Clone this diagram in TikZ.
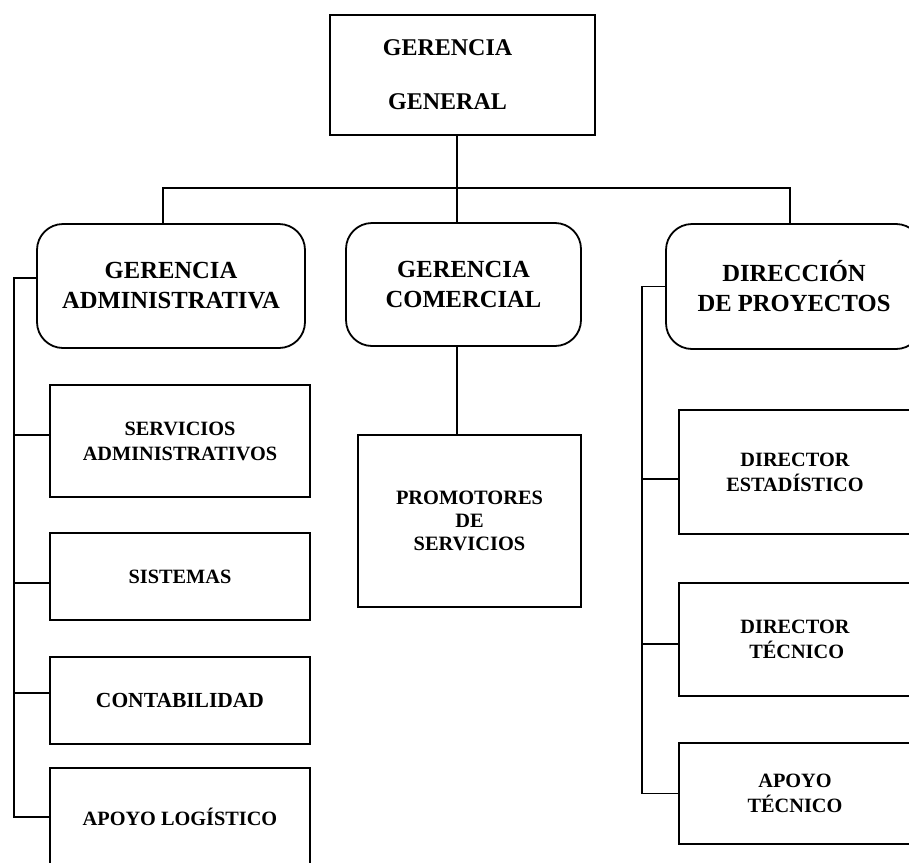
\documentclass[tikz,border=0pt]{standalone}
\usepackage{fontspec}
\setmainfont{Liberation Serif}
\begin{document}
\begin{tikzpicture}[x=1pt,y=-1pt,
  boxstyle/.style={draw, line width=1.8pt, inner sep=0pt, align=center, font=\bfseries},
  roundbox/.style={boxstyle, rounded corners=26pt, font=\fontsize{24.6}{30}\selectfont\bfseries},
  smallbox/.style={boxstyle, font=\fontsize{20.3}{25}\selectfont\bfseries},
  conn/.style={line width=1.5pt}]
\clip (0,0) rectangle (909,862);
\fill[white] (0,0) rectangle (909,862);

% top
\node[boxstyle, minimum width=265pt, minimum height=120pt,
      font=\fontsize{24}{54}\selectfont\bfseries] (gg) at (462.5,75)
  {\hspace*{-30pt}GERENCIA\\\hspace*{-30pt}GENERAL};

% second level
\node[roundbox, minimum width=268pt, minimum height=124pt] (ga) at (171,286) {GERENCIA\\ADMINISTRATIVA};
\node[roundbox, minimum width=235pt, minimum height=123pt] (gc) at (463.5,284.5) {GERENCIA\\COMERCIAL};
\node[roundbox, minimum width=256pt, minimum height=125pt] (gd) at (794,286.5) {DIRECCIÓN\\DE PROYECTOS};

% left column
\node[smallbox, minimum width=260pt, minimum height=112pt] (sa) at (180,441) {SERVICIOS\\ADMINISTRATIVOS};
\node[smallbox, minimum width=260pt, minimum height=87pt] (si) at (180,576.5) {SISTEMAS};
\node[smallbox, minimum width=260pt, minimum height=87pt, font=\fontsize{21.5}{25}\selectfont\bfseries] (co) at (180,700.5) {CONTABILIDAD};
\node[smallbox, minimum width=260pt, minimum height=98pt] (al) at (180,817) {APOYO LOGÍSTICO};

% middle column
\node[boxstyle, minimum width=223pt, minimum height=172pt,
      font=\fontsize{20.4}{23}\selectfont\bfseries] (pr) at (469.5,521) {PROMOTORES\\DE\\SERVICIOS};

% right column
\node[smallbox, minimum width=232pt, minimum height=124pt] (ed) at (795,472) {DIRECTOR\\ESTADÍSTICO};
\node[smallbox, minimum width=232pt, minimum height=113pt] (dt) at (795,639.5) {DIRECTOR\\ \,TÉCNICO};
\node[smallbox, minimum width=232pt, minimum height=101pt] (at) at (795,793.5) {APOYO\\TÉCNICO};

% bus coordinates
\coordinate (busL) at (163,188);
\coordinate (busM) at (457,188);
\coordinate (busR) at (790,188);
\coordinate (spL) at (14,278);
\coordinate (spR) at (642,286.5);

% top connectors
\draw[conn] (gg.south -| busM) -- (busM);
\draw[conn] (busL |- ga.north) -- (busL) -- (busR) -- (busR |- gd.north);
\draw[conn] (busM) -- (busM |- gc.north);
\draw[conn] (gc.south -| busM) -- (busM |- pr.north);

% left spine
\draw[conn] ([yshift=8pt]ga.west) -- (spL) |- (al.west);
\draw[conn] ([yshift=6pt]sa.west) -- ([yshift=6pt]sa.west -| spL);
\draw[conn] ([yshift=-6.5pt]si.west) -- ([yshift=-6.5pt]si.west -| spL);
\draw[conn] ([yshift=7.5pt]co.west) -- ([yshift=7.5pt]co.west -| spL);

% right spine
\draw[conn] (gd.west) -- (spR) |- (at.west);
\draw[conn] ([yshift=-7pt]ed.west) -- ([yshift=-7pt]ed.west -| spR);
\draw[conn] ([yshift=-4.5pt]dt.west) -- ([yshift=-4.5pt]dt.west -| spR);
\end{tikzpicture}
\end{document}
